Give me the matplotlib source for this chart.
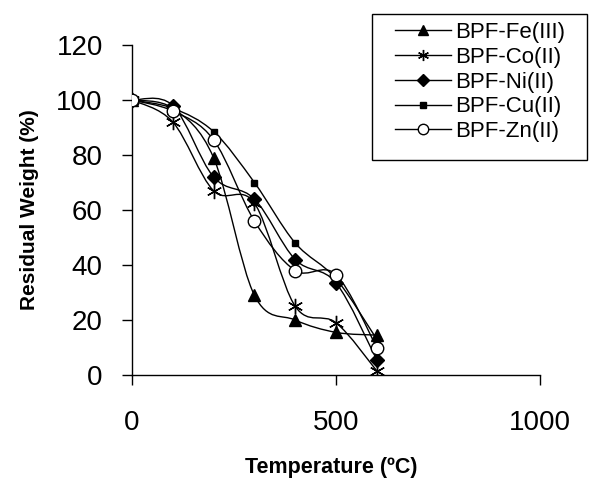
import numpy as np
import matplotlib
matplotlib.use("Agg")
import matplotlib.pyplot as plt
from matplotlib.path import Path
from matplotlib.patches import PathPatch, Rectangle
from matplotlib.lines import Line2D

plt.rcParams['font.family'] = ['Liberation Sans', 'DejaVu Sans']

temperature = [0, 100, 200, 300, 400, 500, 600]
fe = [100, 97, 79, 29, 20, 15.5, 14.5]
co = [100, 92, 67, 62.5, 25, 19, 1.5]
ni = [100, 98, 72, 64, 42, 33.5, 5.5]
cu = [100, 97, 88.5, 70, 48, 35, 13]
zn = [100, 96, 85.5, 56, 38, 36.5, 10]
labels = ["BPF-Fe(III)", "BPF-Co(II)", "BPF-Ni(II)", "BPF-Cu(II)", "BPF-Zn(II)"]

series = [fe, co, ni, cu, zn]
star = (6, 2, 0)
styles = [
    dict(marker='^', ms=8, mfc='black', mec='black'),
    dict(marker=star, ms=11, mfc='black', mec='black', mew=1.0),
    dict(marker='D', ms=7, mfc='black', mec='black'),
    dict(marker='s', ms=5, mfc='black', mec='black'),
    dict(marker='o', ms=9, mfc='white', mec='black', mew=1.0),
]
legend_styles = [
    dict(marker='^', ms=7, mfc='black', mec='black'),
    dict(marker=star, ms=8, mfc='black', mec='black', mew=1.0),
    dict(marker='D', ms=6, mfc='black', mec='black'),
    dict(marker='s', ms=4.5, mfc='black', mec='black'),
    dict(marker='o', ms=7.5, mfc='white', mec='black', mew=1.0),
]


def smooth_path(xs, ys, t=1/6):
    pts = np.column_stack([xs, ys]).astype(float)
    n = len(pts)
    verts = [pts[0]]
    codes = [Path.MOVETO]
    for i in range(n - 1):
        p0 = pts[i - 1] if i > 0 else pts[i]
        p1 = pts[i]
        p2 = pts[i + 1]
        p3 = pts[i + 2] if i + 2 < n else pts[i + 1]
        c1 = p1 + (p2 - p0) * t
        c2 = p2 - (p3 - p1) * t
        verts += [c1, c2, p2]
        codes += [Path.CURVE4] * 3
    return Path(verts, codes)


W, H = 589, 478
fig = plt.figure(figsize=(W / 100, H / 100), dpi=100)
ax = fig.add_axes([132 / W, 1 - 375 / H, (540 - 132) / W, (375 - 45) / H])

for ys, st in zip(series, styles):
    patch = PathPatch(smooth_path(temperature, ys), facecolor='none',
                      edgecolor='black', lw=1.0, transform=ax.transData, zorder=2)
    ax.add_patch(patch)
    ax.plot(temperature, ys, linestyle='none', zorder=3, **st)

ax.set_xlim(0, 1000)
ax.set_ylim(0, 120)
ax.set_xticks([0, 500, 1000])
ax.set_yticks([0, 20, 40, 60, 80, 100, 120])
for s in ['top', 'right']:
    ax.spines[s].set_visible(False)
for s in ['left', 'bottom']:
    ax.spines[s].set_linewidth(1.0)
ax.tick_params(axis='both', direction='out', length=7, width=1.0, labelsize=20)
ax.tick_params(axis='x', pad=18)
ax.tick_params(axis='y', pad=14)

fig.text(331 / W, 1 - 467 / H, "Temperature (ºC)", fontsize=15.5, fontweight='bold',
         ha='center', va='center')
fig.text(30 / W, 1 - 210 / H, "Residual Weight (%)", fontsize=15, fontweight='bold',
         rotation=90, ha='center', va='center')

# legend box
box = Rectangle((372 / W, 1 - 160 / H), (587 - 372) / W, (160 - 14) / H,
                transform=fig.transFigure, facecolor='white', edgecolor='black',
                lw=1.0, zorder=5)
fig.add_artist(box)

handles = [Line2D([], [], color='black', lw=1.0, **st) for st in legend_styles]
leg = fig.legend(handles, labels, loc='upper left',
                 bbox_to_anchor=(395 / W, 1 - 22 / H),
                 frameon=False, fontsize=16,
                 handlelength=2.5, handletextpad=0.2, labelspacing=0.17,
                 borderpad=0, borderaxespad=0)
leg.set_zorder(6)

fig.savefig("out.png", dpi=100)
